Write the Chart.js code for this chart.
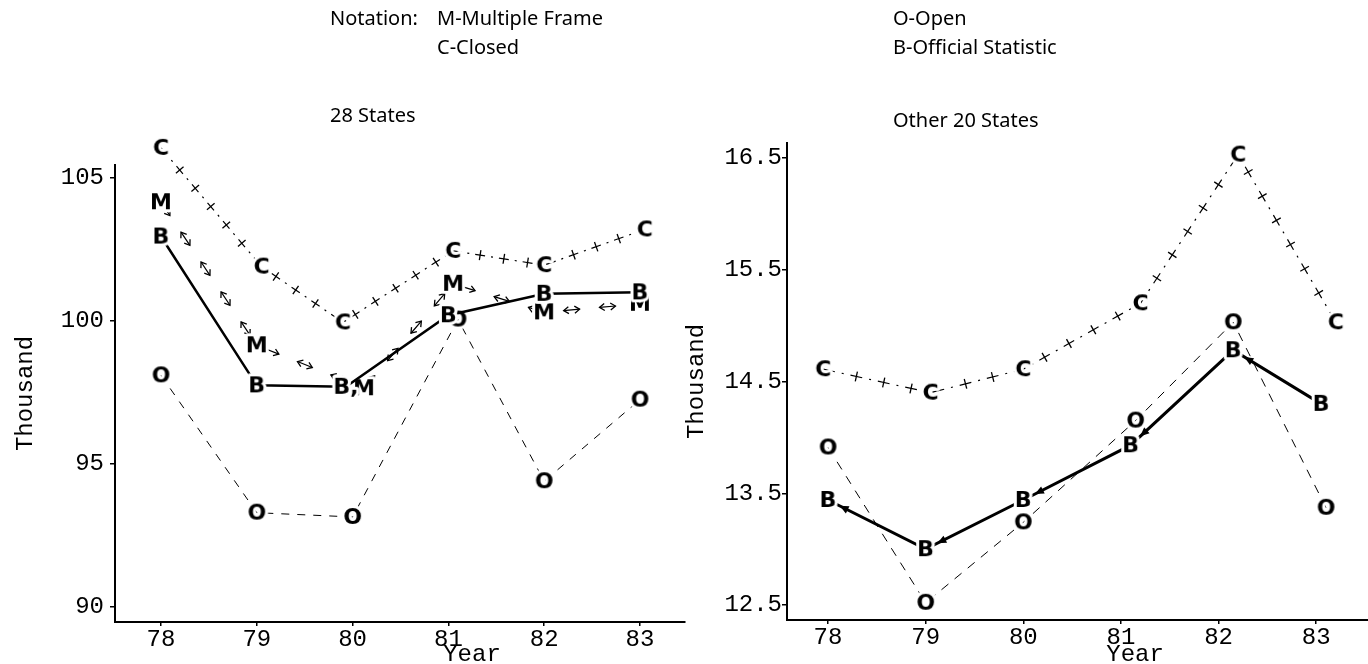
<!DOCTYPE html>
<html><head><meta charset="utf-8">
<script src="https://cdn.jsdelivr.net/npm/chart.js@4.4.1/dist/chart.umd.min.js"></script>
<style>
html,body{margin:0;padding:0;background:#fff;}
#wrap{position:relative;width:1368px;height:664px;overflow:hidden;background:#fff;}
.t{position:absolute;font-family:"Noto Sans",sans-serif;font-size:20px;color:#000;white-space:nowrap;line-height:1;}
canvas{position:absolute;left:0;top:0;}
</style></head><body>
<div id="wrap">
 <div style="position:absolute;left:0;top:0;width:700px;height:664px"><canvas id="c1" width="700" height="664"></canvas></div>
 <div style="position:absolute;left:680px;top:0;width:688px;height:664px"><canvas id="c2" width="688" height="664"></canvas></div>
 <div class="t" style="left:330px;top:8px">Notation:</div>
 <div class="t" style="left:437px;top:8px">M-Multiple Frame</div>
 <div class="t" style="left:437px;top:37px">C-Closed</div>
 <div class="t" style="left:893px;top:8px">O-Open</div>
 <div class="t" style="left:893px;top:37px">B-Official Statistic</div>
 <div class="t" style="left:330px;top:105px">28 States</div>
 <div class="t" style="left:893px;top:110px">Other 20 States</div>
</div>
<script>
// ---------- data ----------
const years = [78, 79, 80, 81, 82, 83];
const xTickLabels = ['78', '79', '80', '81', '82', '83'];
const leftYTicks = [90, 95, 100, 105];
const leftYTickLabels = ['90', '95', '100', '105'];
const rightYTicks = [12.5, 13.5, 14.5, 15.5, 16.5];
const rightYTickLabels = ['12.5', '13.5', '14.5', '15.5', '16.5'];

// 28 States
const leftC_x = [78, 79.05, 79.9, 81.05, 82, 83.05];
const leftC   = [106.05, 101.9, 99.95, 102.45, 101.95, 103.2];
const leftM_x = [78, 79, 80.12, 81.05, 82, 83];
const leftM   = [104.15, 99.15, 97.65, 101.3, 100.3, 100.6];
const leftB_x = [78, 79, 79.93, 81, 82, 83];
const leftB   = [102.95, 97.75, 97.7, 100.2, 100.95, 101.0];
const leftO_x = [78, 79, 80, 81.1, 82, 83];
const leftO   = [98.1, 93.3, 93.15, 100.05, 94.4, 97.25];

// Other 20 States
const rightC_x = [77.95, 79.05, 80, 81.2, 82.2, 83.2];
const rightC   = [14.61, 14.4, 14.61, 15.2, 16.53, 15.03];
const rightB_x = [78, 79, 80, 81.1, 82.15, 83.05];
const rightB   = [13.44, 13.0, 13.44, 13.93, 14.78, 14.3];
const rightO_x = [78, 79, 80, 81.15, 82.15, 83.1];
const rightO   = [13.91, 12.52, 13.24, 14.15, 15.03, 13.37];

// ---------- helpers ----------
function letter(txt) {
  const c = document.createElement('canvas');
  const f = 'bold 22px "DejaVu Sans"';
  let ctx = c.getContext('2d');
  ctx.font = f;
  const w = Math.ceil(ctx.measureText(txt).width) + 10, h = 32;
  c.width = w; c.height = h;
  ctx = c.getContext('2d');
  ctx.font = f; ctx.textAlign = 'center'; ctx.textBaseline = 'middle';
  ctx.lineJoin = 'round'; ctx.strokeStyle = '#fff'; ctx.lineWidth = 6;
  ctx.strokeText(txt, w / 2, h / 2 + 1);
  ctx.fillStyle = '#000'; ctx.fillText(txt, w / 2, h / 2 + 1);
  return c;
}
const mk = {C: letter('C'), M: letter('M'), B: letter('B'), O: letter('O'), Bc: letter('B,')};
const pts = (xs, ys) => xs.map((x, i) => ({x, y: ys[i]}));

const decor = {
  id: 'decor',
  beforeDatasetsDraw(chart) {
    const ctx = chart.ctx;
    chart.data.datasets.forEach((ds, i) => {
      if (!ds.decor) return;
      const P = chart.getDatasetMeta(i).data.map(p => ({x: p.x, y: p.y}));
      const segs = []; let total = 0;
      for (let k = 0; k < P.length - 1; k++) {
        const a = P[k], b = P[k + 1], L = Math.hypot(b.x - a.x, b.y - a.y);
        segs.push({a, b, L, s0: total}); total += L;
      }
      const at = s => {
        for (const g of segs) if (s <= g.s0 + g.L) {
          const t = (s - g.s0) / g.L;
          return {x: g.a.x + (g.b.x - g.a.x) * t, y: g.a.y + (g.b.y - g.a.y) * t,
                  ux: (g.b.x - g.a.x) / g.L, uy: (g.b.y - g.a.y) / g.L};
        }
        return null;
      };
      const near = p => P.some(q => Math.hypot(q.x - p.x, q.y - p.y) < 10);
      ctx.save(); ctx.strokeStyle = '#000'; ctx.fillStyle = '#000'; ctx.lineWidth = 1.3; ctx.setLineDash([]);
      if (ds.decor === 'cross') {
        const period = ds.borderDash.reduce((a, b) => a + b, 0);
        for (let s = ds.borderDash[0] / 2; s < total; s += period) {
          const p = at(s); if (!p || near(p)) continue;
          ctx.beginPath();
          ctx.moveTo(p.x - p.uy * 5, p.y + p.ux * 5);
          ctx.lineTo(p.x + p.uy * 5, p.y - p.ux * 5);
          ctx.stroke();
        }
      } else if (ds.decor === 'arrow') {
        const period = ds.borderDash.reduce((a, b) => a + b, 0);
        const d = ds.borderDash[0];
        for (let s = 0; s < total; s += period) {
          [[s, -1], [Math.min(s + d, total), 1]].forEach(([ss, dir]) => {
            const p = at(ss); if (!p || near(p)) return;
            const ux = p.ux * dir, uy = p.uy * dir;
            const bx = p.x - ux * 5, by = p.y - uy * 5;
            ctx.beginPath();
            ctx.moveTo(bx - uy * 3.5, by + ux * 3.5);
            ctx.lineTo(p.x, p.y);
            ctx.lineTo(bx + uy * 3.5, by - ux * 3.5);
            ctx.stroke();
          });
        }
      } else if (ds.decor === 'heads') {
        segs.forEach(g => {
          const ux = (g.a.x - g.b.x) / g.L, uy = (g.a.y - g.b.y) / g.L;
          const tx = g.a.x - ux * 13, ty = g.a.y - uy * 13;
          const bx = tx - ux * 9, by = ty - uy * 9;
          ctx.beginPath();
          ctx.moveTo(tx, ty);
          ctx.lineTo(bx - uy * 4, by + ux * 4);
          ctx.lineTo(bx + uy * 4, by - ux * 4);
          ctx.closePath(); ctx.fill();
        });
      }
      ctx.restore();
    });
  }
};

const mono = size => ({family: '"Liberation Mono", monospace', size, lineHeight: 1});

function build(id, o) {
  return new Chart(document.getElementById(id), {
    type: 'line',
    data: {datasets: o.datasets},
    options: {
      responsive: false, animation: false, devicePixelRatio: 1,
      layout: {autoPadding: false, padding: {top: o.padTop, right: o.padRight, left: 0, bottom: 0}},
      plugins: {legend: {display: false}, tooltip: {enabled: false}},
      elements: {line: {tension: 0}},
      scales: {
        x: {
          type: 'linear', min: o.xMin, max: o.xMax,
          afterBuildTicks: s => { s.ticks = years.map(v => ({value: v})); },
          afterFit: s => { s.height = o.xH; },
          ticks: {callback: (v, i) => xTickLabels[i], font: mono(24), color: '#000',
                  padding: 2, maxRotation: 0, autoSkip: false},
          grid: {drawOnChartArea: false, drawTicks: true, tickLength: 4, color: '#000', lineWidth: 1.5},
          border: {display: true, color: '#000', width: 2},
          title: {display: true, text: ' '.repeat(o.yearShift) + 'Year', font: mono(24), color: '#000',
                  padding: {top: 0, bottom: -3}}
        },
        y: {
          type: 'linear', min: o.yMin, max: o.yMax,
          afterBuildTicks: s => { s.ticks = o.yTicks.map(v => ({value: v})); },
          afterFit: s => { s.width = o.yW; },
          ticks: {callback: (v, i) => o.yLabels[i], font: mono(24), color: '#000',
                  padding: o.yPad, autoSkip: false},
          grid: {drawOnChartArea: false, drawTicks: true, tickLength: 5, color: '#000', lineWidth: 1.5},
          border: {display: true, color: '#000', width: 2},
          title: {display: true, text: 'Thousand', font: mono(24), color: '#000',
                  padding: {top: o.thPad, bottom: 0}}
        }
      }
    },
    plugins: [decor]
  });
}

const base = {borderColor: '#000', backgroundColor: '#000', fill: false,
              pointRadius: 30, pointHoverRadius: 30, pointBorderWidth: 0, clip: false};

build('c1', {
  padTop: 165, padRight: 15, xH: 42, yW: 115,
  xMin: 77.52, xMax: 83.47, yMin: 89.48, yMax: 105.45,
  yTicks: leftYTicks, yLabels: leftYTickLabels, yPad: 6, thPad: 14, yearShift: 10,
  datasets: [
    {...base, data: pts(leftB_x, leftB), borderWidth: 2.5,
     pointStyle: [mk.B, mk.B, mk.Bc, mk.B, mk.B, mk.B]},
    {...base, data: pts(leftC_x, leftC), borderWidth: 1.2, borderDash: [10, 6, 2, 6], decor: 'cross', pointStyle: mk.C},
    {...base, data: pts(leftM_x, leftM), borderWidth: 1.2, borderDash: [16, 20], decor: 'arrow', pointStyle: mk.M},
    {...base, data: pts(leftO_x, leftO), borderWidth: 1, borderDash: [8, 8], pointStyle: mk.O}
  ]
});

build('c2', {
  padTop: 143, padRight: 0, xH: 44, yW: 107,
  xMin: 77.58, xMax: 83.53, yMin: 12.366, yMax: 16.634,
  yTicks: rightYTicks, yLabels: rightYTickLabels, yPad: 0, thPad: 5, yearShift: 8,
  datasets: [
    {...base, data: pts(rightB_x, rightB), borderWidth: 3, decor: 'heads', pointStyle: mk.B},
    {...base, data: pts(rightC_x, rightC), borderWidth: 1.2, borderDash: [12, 7, 2, 7], decor: 'cross', pointStyle: mk.C},
    {...base, data: pts(rightO_x, rightO), borderWidth: 1, borderDash: [9, 8], pointStyle: mk.O}
  ]
});
</script>
</body></html>
